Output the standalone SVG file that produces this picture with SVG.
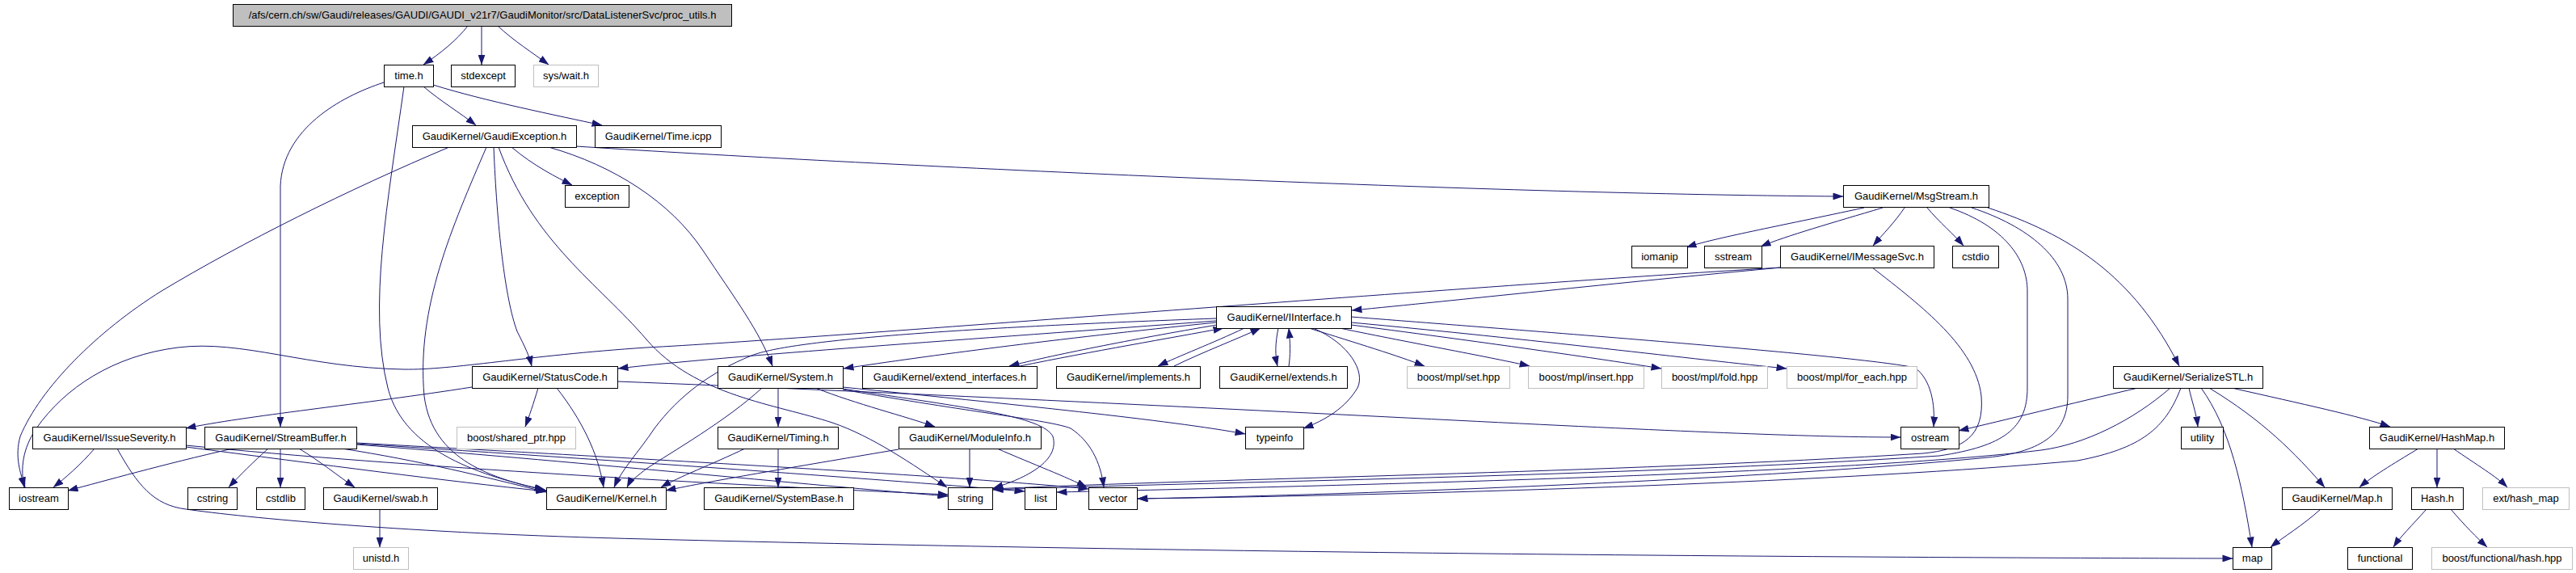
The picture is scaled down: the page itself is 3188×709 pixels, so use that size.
<svg xmlns="http://www.w3.org/2000/svg" width="3188" height="709" viewBox="0 0 3188 709">
<defs>
<marker id="a" viewBox="0 0 13 9" refX="12.5" refY="4.5" markerWidth="13" markerHeight="9" markerUnits="userSpaceOnUse" orient="auto">
<path d="M0,0 L13,4.5 L0,9 z" fill="#191970"/>
</marker>
<style>
rect{fill:#ffffff;stroke:#000000;stroke-width:1}
.g rect{stroke:#bfbfbf}
.r rect{fill:#bfbfbf}
text{font-family:"Liberation Sans",Arial,sans-serif;font-size:13px;fill:#000000;text-anchor:middle}
#edges path{fill:none;stroke:#191970;stroke-width:1;marker-end:url(#a)}
</style>
</defs>
<rect x="0" y="0" width="3188" height="709" style="fill:#ffffff;stroke:none"/>
<g id="edges">
<path d="M579,32 C565,50 545,66 524,80"/>
<path d="M596,32 L596,80"/>
<path d="M616,32 C635,50 660,66 679,80"/>
<path d="M524,107 C545,125 570,140 589,155"/>
<path d="M536,105 C600,125 690,143 745,155"/>
<path d="M475,102 C420,120 350,160 347,230 L347,528"/>
<path d="M500,107 C480,250 455,380 480,480 C500,560 600,590 674,606"/>
<path d="M556,182 C430,235 300,300 200,360 C120,410 50,480 25,540 C18,565 25,585 31,603"/>
<path d="M602,182 C560,280 515,380 525,490 C535,570 610,592 676,607"/>
<path d="M611,182 C615,280 625,370 640,410 C650,430 655,440 658,453"/>
<path d="M617,182 C660,300 740,350 800,420 C860,490 960,500 1030,523 C1080,540 1130,575 1172,603"/>
<path d="M633,182 C660,205 690,220 708,229"/>
<path d="M679,182 C760,205 830,250 870,310 C910,370 940,410 956,453"/>
<path d="M713,181 C1000,200 1800,240 2281,243"/>
<path d="M2307,257 C2200,280 2120,295 2087,306"/>
<path d="M2330,257 C2270,275 2210,292 2179,305"/>
<path d="M2357,257 C2345,275 2330,290 2318,304"/>
<path d="M2385,257 C2400,275 2418,290 2430,304"/>
<path d="M2413,257 C2480,280 2509,320 2509,360 L2509,480 C2509,530 2480,552 2400,564 C2000,590 1500,596 1229,606"/>
<path d="M2440,257 C2510,280 2559,320 2559,370 L2559,490 C2559,540 2520,560 2460,566 C2200,592 1700,612 1408,617"/>
<path d="M2460,257 C2560,290 2640,340 2697,453"/>
<path d="M2204,331 C2000,350 1800,372 1673,384"/>
<path d="M2204,331 C1800,355 1000,420 800,430 C650,440 560,458 500,457 C380,455 300,420 220,430 C140,440 80,480 45,530 C28,555 25,580 30,603"/>
<path d="M2317,331 C2380,380 2445,430 2452,490 C2456,540 2430,556 2380,561 C2000,585 1500,592 1229,605"/>
<path d="M1505,397 C1200,420 900,440 765,456"/>
<path d="M1505,399 C1300,420 1150,440 1044,456"/>
<path d="M1505,394 C1200,405 980,420 930,440 C880,460 840,490 810,530 C790,560 770,580 760,603"/>
<path d="M1506,402 C1400,420 1300,440 1249,453"/>
<path d="M1540,406 C1500,425 1460,440 1433,453"/>
<path d="M1582,406 C1578,425 1578,440 1581,453"/>
<path d="M1620,406 C1680,425 1730,440 1763,453"/>
<path d="M1658,406 C1750,425 1850,443 1893,453"/>
<path d="M1672,402 C1850,425 2000,447 2056,456"/>
<path d="M1672,399 C1900,420 2100,445 2211,456"/>
<path d="M1672,392 C1900,410 2300,440 2370,455 C2390,470 2395,500 2393,528"/>
<path d="M1625,406 C1670,425 1690,460 1680,480 C1665,505 1640,520 1613,530"/>
<path d="M1262,453 C1350,435 1450,418 1514,406"/>
<path d="M1453,453 C1490,435 1530,420 1560,406"/>
<path d="M1595,453 C1597,440 1597,425 1595,406"/>
<path d="M584,479 C450,500 300,515 230,530"/>
<path d="M666,480 C660,500 655,515 650,528"/>
<path d="M689,480 C720,520 740,560 747,603"/>
<path d="M764,472 C1100,485 1500,505 1800,520 C2100,535 2250,541 2352,541"/>
<path d="M943,480 C900,520 830,560 800,580 C790,588 780,595 776,603"/>
<path d="M963,480 L963,528"/>
<path d="M1009,480 C1060,500 1120,515 1157,528"/>
<path d="M1043,479 C1250,500 1450,520 1541,537"/>
<path d="M1043,481 C1200,505 1290,515 1303,540 C1312,570 1270,592 1229,604"/>
<path d="M1043,482 C1200,510 1300,520 1325,530 C1348,545 1362,570 1366,603"/>
<path d="M922,555 C880,575 840,590 818,603"/>
<path d="M963,555 L963,603"/>
<path d="M1112,556 C1000,575 880,595 824,607"/>
<path d="M1200,555 L1200,603"/>
<path d="M1234,555 C1280,575 1320,590 1345,603"/>
<path d="M117,555 C100,575 80,592 66,603"/>
<path d="M230,553 C400,575 550,595 676,608"/>
<path d="M230,551 C500,578 900,600 1173,612"/>
<path d="M145,555 C170,600 190,625 230,630 C300,640 500,660 800,667 C1500,685 2300,690 2763,691"/>
<path d="M288,555 C200,575 130,595 84,607"/>
<path d="M332,555 C315,570 295,590 283,603"/>
<path d="M347,555 L347,603"/>
<path d="M370,555 C395,570 420,590 439,603"/>
<path d="M423,555 C520,570 600,590 676,609"/>
<path d="M441,550 C700,570 1000,600 1173,614"/>
<path d="M441,549 C800,572 1100,594 1268,608"/>
<path d="M441,548 C800,568 1200,590 1347,605"/>
<path d="M470,630 L470,677"/>
<path d="M2646,480 C2560,500 2480,520 2424,533"/>
<path d="M2686,480 C2640,520 2580,550 2526,557 C2300,585 1700,600 1308,609"/>
<path d="M2699,480 C2680,530 2650,555 2571,570 C2300,595 1800,612 1408,617"/>
<path d="M2709,480 C2712,495 2718,510 2720,528"/>
<path d="M2724,480 C2760,530 2775,600 2787,677"/>
<path d="M2734,480 C2800,520 2840,560 2877,603"/>
<path d="M2762,480 C2850,500 2920,515 2958,528"/>
<path d="M2993,555 C2960,575 2935,590 2920,603"/>
<path d="M3016,555 L3016,603"/>
<path d="M3036,555 C3065,575 3090,590 3103,603"/>
<path d="M2872,630 C2850,650 2825,665 2810,677"/>
<path d="M3003,630 C2985,650 2970,665 2962,677"/>
<path d="M3033,630 C3050,650 3065,665 3078,677"/>
</g>
<g id="n_root" class="r"><rect x="288.5" y="5.5" width="617" height="27"/><text x="597" y="23">/afs/cern.ch/sw/Gaudi/releases/GAUDI/GAUDI_v21r7/GaudiMonitor/src/DataListenerSvc/proc_utils.h</text></g>
<g id="n_time"><rect x="475.5" y="80.5" width="61" height="27"/><text x="506" y="98">time.h</text></g>
<g id="n_stdexcept"><rect x="558.5" y="80.5" width="79" height="27"/><text x="598" y="98">stdexcept</text></g>
<g id="n_syswait" class="g"><rect x="660.5" y="80.5" width="80" height="27"/><text x="700.5" y="98">sys/wait.h</text></g>
<g id="n_gaudiexception"><rect x="510.5" y="155.5" width="203" height="27"/><text x="612" y="173">GaudiKernel/GaudiException.h</text></g>
<g id="n_timeicpp"><rect x="736.5" y="155.5" width="156" height="27"/><text x="814.5" y="173">GaudiKernel/Time.icpp</text></g>
<g id="n_exception"><rect x="699.5" y="229.5" width="79" height="27"/><text x="739" y="247">exception</text></g>
<g id="n_msgstream"><rect x="2281.5" y="229.5" width="180" height="27"/><text x="2371.5" y="247">GaudiKernel/MsgStream.h</text></g>
<g id="n_iomanip"><rect x="2019.5" y="304.5" width="69" height="27"/><text x="2054" y="322">iomanip</text></g>
<g id="n_sstream"><rect x="2109.5" y="304.5" width="71" height="27"/><text x="2145" y="322">sstream</text></g>
<g id="n_imessagesvc"><rect x="2203.5" y="304.5" width="190" height="27"/><text x="2298.5" y="322">GaudiKernel/IMessageSvc.h</text></g>
<g id="n_cstdio"><rect x="2416.5" y="304.5" width="57" height="27"/><text x="2445" y="322">cstdio</text></g>
<g id="n_iinterface"><rect x="1505.5" y="379.5" width="167" height="27"/><text x="1589" y="397">GaudiKernel/IInterface.h</text></g>
<g id="n_statuscode"><rect x="584.5" y="453.5" width="180" height="27"/><text x="674.5" y="471">GaudiKernel/StatusCode.h</text></g>
<g id="n_system"><rect x="888.5" y="453.5" width="155" height="27"/><text x="966" y="471">GaudiKernel/System.h</text></g>
<g id="n_extend_interfaces"><rect x="1067.5" y="453.5" width="216" height="27"/><text x="1175.5" y="471">GaudiKernel/extend_interfaces.h</text></g>
<g id="n_implements"><rect x="1307.5" y="453.5" width="178" height="27"/><text x="1396.5" y="471">GaudiKernel/implements.h</text></g>
<g id="n_extends"><rect x="1509.5" y="453.5" width="158" height="27"/><text x="1588.5" y="471">GaudiKernel/extends.h</text></g>
<g id="n_mplset" class="g"><rect x="1741.5" y="453.5" width="127" height="27"/><text x="1805" y="471">boost/mpl/set.hpp</text></g>
<g id="n_mplinsert" class="g"><rect x="1891.5" y="453.5" width="143" height="27"/><text x="1963" y="471">boost/mpl/insert.hpp</text></g>
<g id="n_mplfold" class="g"><rect x="2056.5" y="453.5" width="131" height="27"/><text x="2122" y="471">boost/mpl/fold.hpp</text></g>
<g id="n_mplforeach" class="g"><rect x="2211.5" y="453.5" width="161" height="27"/><text x="2292" y="471">boost/mpl/for_each.hpp</text></g>
<g id="n_serializestl"><rect x="2615.5" y="453.5" width="185" height="27"/><text x="2708" y="471">GaudiKernel/SerializeSTL.h</text></g>
<g id="n_issueseverity"><rect x="40.5" y="528.5" width="190" height="27"/><text x="135.5" y="546">GaudiKernel/IssueSeverity.h</text></g>
<g id="n_streambuffer"><rect x="253.5" y="528.5" width="188" height="27"/><text x="347.5" y="546">GaudiKernel/StreamBuffer.h</text></g>
<g id="n_sharedptr" class="g"><rect x="565.5" y="528.5" width="147" height="27"/><text x="639" y="546">boost/shared_ptr.hpp</text></g>
<g id="n_timing"><rect x="888.5" y="528.5" width="149" height="27"/><text x="963" y="546">GaudiKernel/Timing.h</text></g>
<g id="n_moduleinfo"><rect x="1112.5" y="528.5" width="176" height="27"/><text x="1200.5" y="546">GaudiKernel/ModuleInfo.h</text></g>
<g id="n_typeinfo"><rect x="1541.5" y="528.5" width="72" height="27"/><text x="1577.5" y="546">typeinfo</text></g>
<g id="n_ostream"><rect x="2352.5" y="528.5" width="72" height="27"/><text x="2388.5" y="546">ostream</text></g>
<g id="n_utility"><rect x="2699.5" y="528.5" width="52" height="27"/><text x="2725.5" y="546">utility</text></g>
<g id="n_hashmap"><rect x="2932.5" y="528.5" width="167" height="27"/><text x="3016" y="546">GaudiKernel/HashMap.h</text></g>
<g id="n_iostream"><rect x="11.5" y="603.5" width="73" height="27"/><text x="48" y="621">iostream</text></g>
<g id="n_cstring"><rect x="232.5" y="603.5" width="61" height="27"/><text x="263" y="621">cstring</text></g>
<g id="n_cstdlib"><rect x="317.5" y="603.5" width="60" height="27"/><text x="347.5" y="621">cstdlib</text></g>
<g id="n_swab"><rect x="400.5" y="603.5" width="141" height="27"/><text x="471" y="621">GaudiKernel/swab.h</text></g>
<g id="n_kernel"><rect x="676.5" y="603.5" width="148" height="27"/><text x="750.5" y="621">GaudiKernel/Kernel.h</text></g>
<g id="n_systembase"><rect x="871.5" y="603.5" width="185" height="27"/><text x="964" y="621">GaudiKernel/SystemBase.h</text></g>
<g id="n_string"><rect x="1173.5" y="603.5" width="55" height="27"/><text x="1201" y="621">string</text></g>
<g id="n_list"><rect x="1268.5" y="603.5" width="39" height="27"/><text x="1288" y="621">list</text></g>
<g id="n_vector"><rect x="1347.5" y="603.5" width="60" height="27"/><text x="1377.5" y="621">vector</text></g>
<g id="n_maph"><rect x="2824.5" y="603.5" width="136" height="27"/><text x="2892.5" y="621">GaudiKernel/Map.h</text></g>
<g id="n_hashh"><rect x="2984.5" y="603.5" width="64" height="27"/><text x="3016.5" y="621">Hash.h</text></g>
<g id="n_exthashmap" class="g"><rect x="3072.5" y="603.5" width="107" height="27"/><text x="3126" y="621">ext/hash_map</text></g>
<g id="n_unistd" class="g"><rect x="437.5" y="677.5" width="68" height="27"/><text x="471.5" y="695">unistd.h</text></g>
<g id="n_map"><rect x="2763.5" y="677.5" width="48" height="27"/><text x="2787.5" y="695">map</text></g>
<g id="n_functional"><rect x="2905.5" y="677.5" width="80" height="27"/><text x="2945.5" y="695">functional</text></g>
<g id="n_boosthash" class="g"><rect x="3009.5" y="677.5" width="174" height="27"/><text x="3096.5" y="695">boost/functional/hash.hpp</text></g>
</svg>
